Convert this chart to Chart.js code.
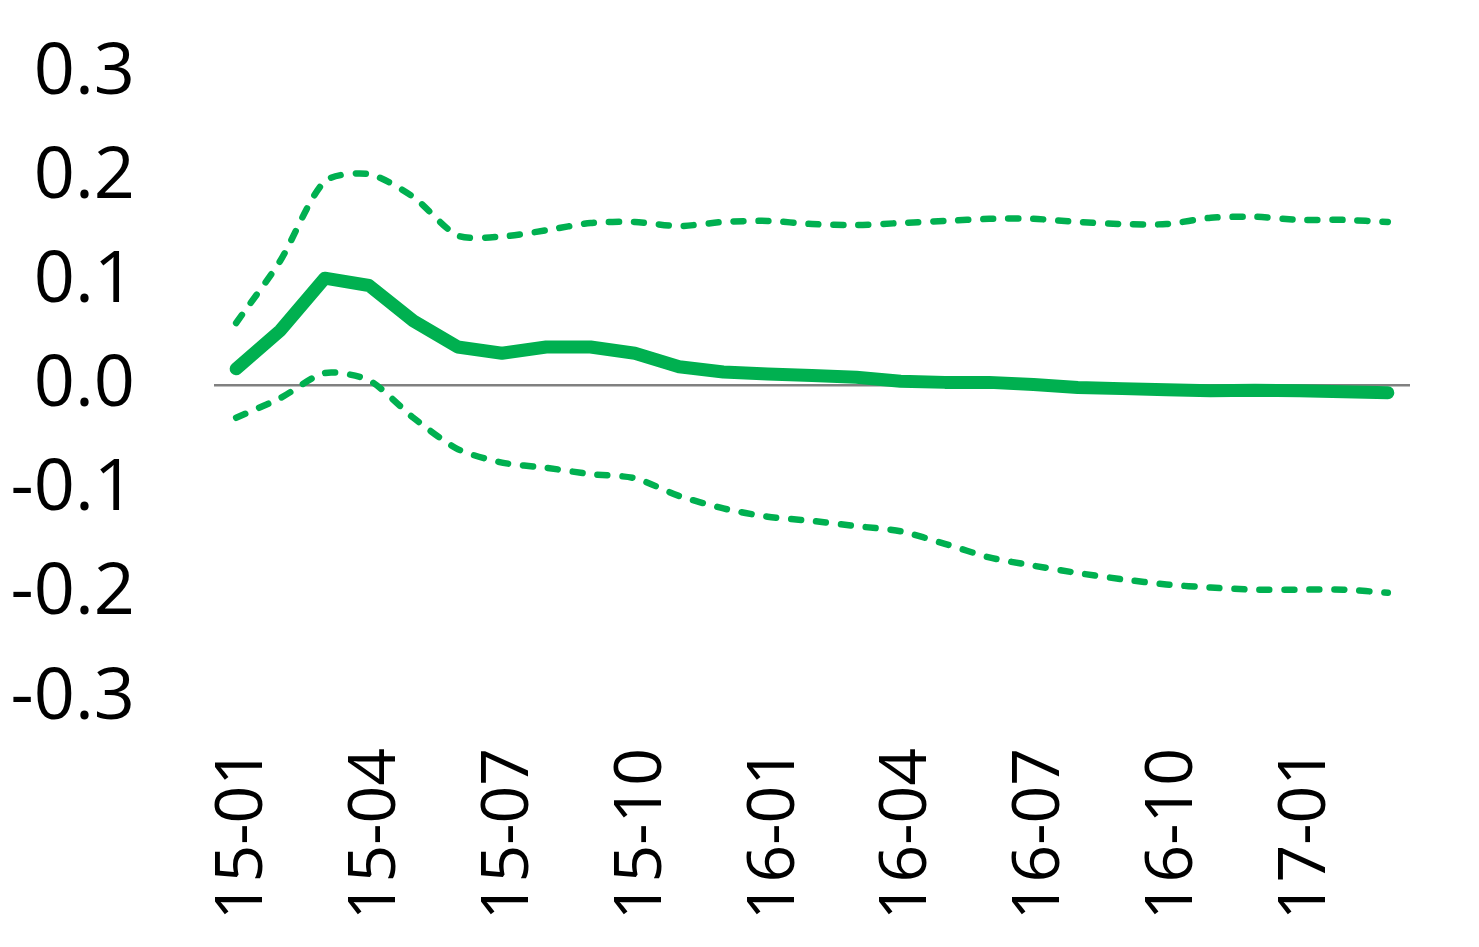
<!DOCTYPE html>
<html>
<head>
<meta charset="utf-8">
<script src="https://cdn.jsdelivr.net/npm/chart.js@4.4.1/dist/chart.umd.min.js"></script>
<style>
  html, body { margin: 0; padding: 0; background: #fff; }
  #chart { display: block; }
</style>
</head>
<body>
<canvas id="chart" width="1479" height="947"></canvas>
<script>
const months = ['15-01', '15-02', '15-03', '15-04', '15-05', '15-06', '15-07', '15-08', '15-09',
    '15-10', '15-11', '15-12', '16-01', '16-02', '16-03', '16-04', '16-05', '16-06',
    '16-07', '16-08', '16-09', '16-10', '16-11', '16-12', '17-01', '17-02', '17-03'];

const estimate = [0.016, 0.053, 0.103, 0.096, 0.062, 0.037, 0.031, 0.037, 0.037,
    0.031, 0.018, 0.013, 0.011, 0.0095, 0.008, 0.004, 0.003, 0.003,
    0.001, -0.002, -0.003, -0.004, -0.005, -0.0045, -0.005, -0.006, -0.007];

const upperBand = [0.06, 0.12, 0.196, 0.203, 0.181, 0.144, 0.143, 0.149, 0.156,
    0.157, 0.153, 0.157, 0.158, 0.155, 0.154, 0.156, 0.158, 0.16,
    0.16, 0.157, 0.155, 0.155, 0.161, 0.162, 0.159, 0.159, 0.157];

const lowerBand = [-0.031, -0.012, 0.012, 0.005, -0.031, -0.061, -0.074, -0.079, -0.085,
    -0.089, -0.106, -0.118, -0.126, -0.13, -0.135, -0.14, -0.152, -0.165,
    -0.173, -0.18, -0.186, -0.191, -0.194, -0.196, -0.196, -0.196, -0.199];

const yTicks = [-0.3, -0.2, -0.1, 0.0, 0.1, 0.2, 0.3];

const green = '#00B050';
const font = "'Open Sans', sans-serif";

const ctx = document.getElementById('chart').getContext('2d');
new Chart(ctx, {
    type: 'line',
    data: {
        labels: months,
        datasets: [
            {
                label: 'Estimate',
                data: estimate,
                borderColor: green,
                borderWidth: 13,
                borderCapStyle: 'round',
                borderJoinStyle: 'round',
                pointRadius: 0,
                tension: 0,
                order: 0
            },
            {
                label: 'Upper',
                data: upperBand,
                borderColor: green,
                borderWidth: 6.5,
                borderDash: [10, 15],
                borderCapStyle: 'round',
                pointRadius: 0,
                tension: 0.25,
                order: 1
            },
            {
                label: 'Lower',
                data: lowerBand,
                borderColor: green,
                borderWidth: 6.5,
                borderDash: [10, 15],
                borderCapStyle: 'round',
                pointRadius: 0,
                tension: 0.25,
                order: 1
            }
        ]
    },
    options: {
        responsive: false,
        animation: false,
        layout: {
            padding: { top: 73, right: 69, bottom: 0, left: 0 }
        },
        plugins: {
            legend: { display: false },
            tooltip: { enabled: false }
        },
        scales: {
            x: {
                offset: true,
                grid: { display: false, drawTicks: false },
                border: { display: false },
                afterFit: function(scale) {
                    // fixed axis band, no label overhang
                    scale.height = 249;
                    scale.paddingLeft = 0;
                    scale.paddingRight = 0;
                },
                ticks: {
                    autoSkip: false,
                    maxRotation: 90,
                    minRotation: 90,
                    padding: 50,
                    labelOffset: 7,
                    color: '#000',
                    font: { family: font, size: 66 },
                    callback: function(value, index) {
                        return index % 3 === 0 ? months[index] : '';
                    }
                }
            },
            y: {
                min: -0.3,
                max: 0.3,
                afterFit: function(scale) {
                    scale.width = 214;
                    scale.paddingTop = 0;
                    scale.paddingBottom = 0;
                },
                afterBuildTicks: function(scale) {
                    scale.ticks = yTicks.map(v => ({ value: v }));
                },
                grid: {
                    drawTicks: false,
                    lineWidth: 2.5,
                    color: function(c) {
                        return c.tick && Math.abs(c.tick.value) < 1e-9 ? '#808080' : 'rgba(0,0,0,0)';
                    }
                },
                border: { display: false },
                ticks: {
                    padding: 79,
                    color: '#000',
                    font: { family: font, size: 72 },
                    callback: function(value) {
                        return (Math.round(value * 10) / 10).toFixed(1);
                    }
                }
            }
        }
    }
});
</script>
</body>
</html>
